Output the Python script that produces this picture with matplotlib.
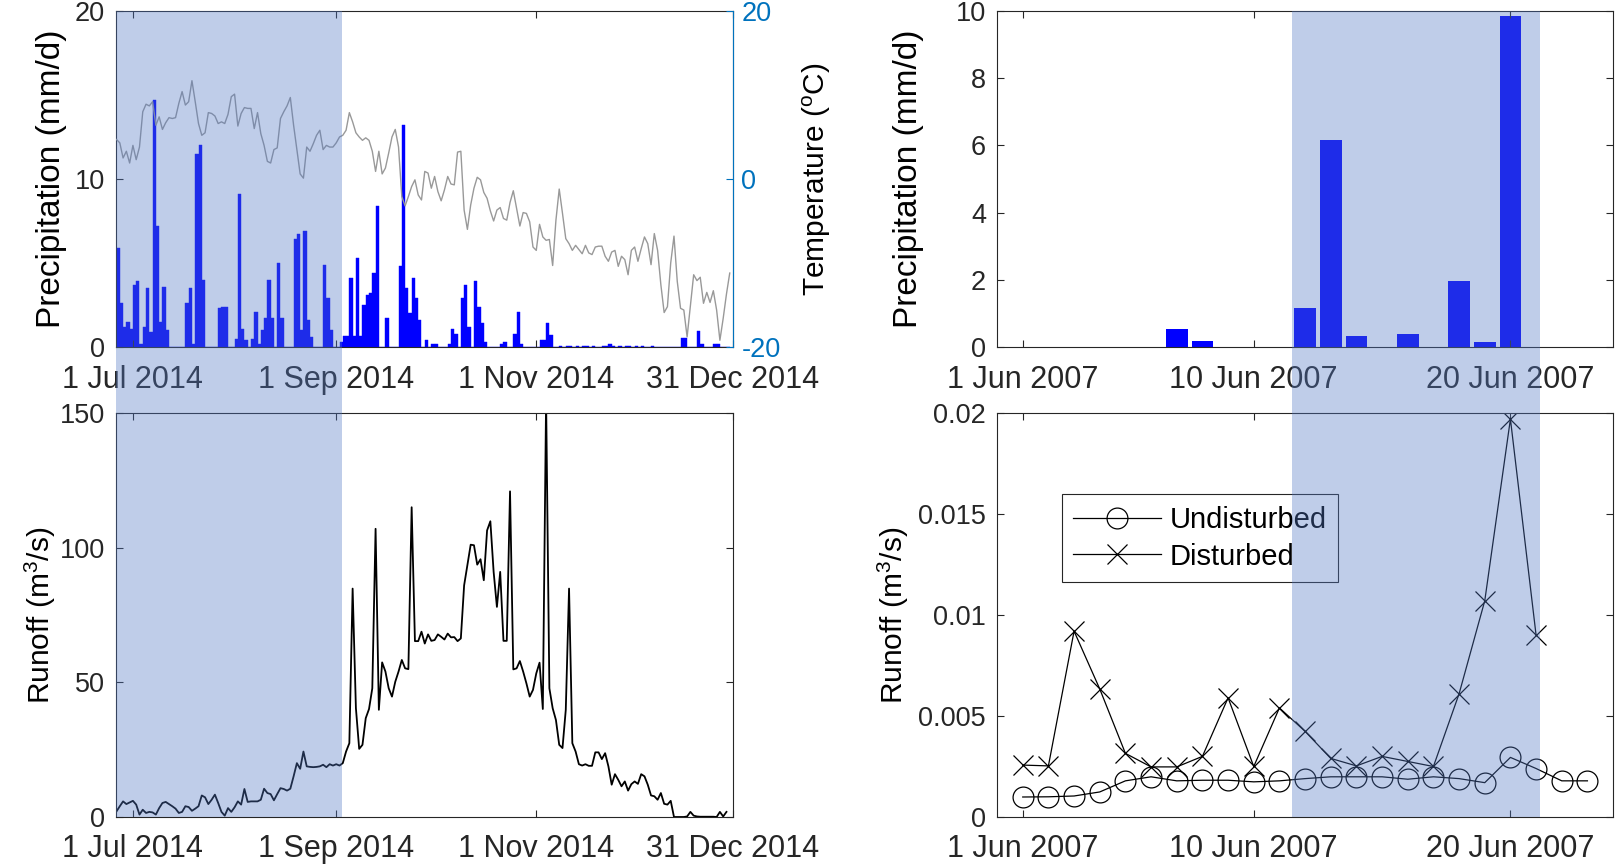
import numpy as np
import matplotlib
matplotlib.use('Agg')
import matplotlib.pyplot as plt
import matplotlib.dates as mdates
from matplotlib.patches import Rectangle
from matplotlib.transforms import blended_transform_factory

plt.rcParams['font.family'] = ['Liberation Sans', 'DejaVu Sans']
plt.rcParams['mathtext.fontset'] = 'custom'
plt.rcParams['mathtext.rm'] = 'Liberation Sans'
plt.rcParams['mathtext.it'] = 'Liberation Sans:italic'
plt.rcParams['axes.unicode_minus'] = False

# ---- 2014 series, one value per day starting 26 Jun 2014 ----
start_2014 = '2014-06-26'

precip_2014 = [
    5.9, 2.6, 1.2, 1.5, 1.1, 3.7, 3.9, 0.2, 1.2, 3.5,
    0.9, 14.7, 7.2, 1.5, 3.6, 1.0, 0, 0, 0, 0,
    0, 2.6, 3.5, 0.2, 11.5, 12.0, 4.0, 0, 0, 0,
    0, 2.3, 2.4, 2.4, 0, 0, 0.5, 9.1, 1.1, 0.4,
    0, 0.5, 2.1, 0.2, 1.0, 1.7, 4.0, 1.7, 0, 5.0,
    1.7, 0, 0, 0, 6.4, 6.7, 1.0, 6.9, 1.6, 0.6,
    0, 0, 0, 4.9, 2.9, 1.0, 0, 0, 0.3, 0.65,
    0.65, 4.1, 0.65, 5.3, 0.65, 2.5, 3.1, 3.2, 4.4, 8.4,
    0, 0, 1.7, 0, 0, 0, 4.8, 13.2, 3.5, 2.0,
    4.1, 2.9, 1.6, 0, 0.4, 0, 0.15, 0.15, 0, 0,
    0, 0.2, 1.05, 0.75, 0, 2.9, 3.7, 1.2, 0, 3.9,
    2.4, 1.4, 0.3, 0, 0, 0, 0, 0.2, 0.3, 0,
    0, 0.8, 2.1, 0.2, 0, 0, 0, 0, 0, 0.4,
    0.4, 1.45, 0.7, 0, 0, 0.06, 0, 0.06, 0.06, 0,
    0.06, 0, 0.06, 0.06, 0, 0.06, 0, 0, 0.06, 0.06,
    0.15, 0.06, 0, 0.06, 0, 0.06, 0.06, 0, 0.06, 0,
    0.06, 0, 0, 0.06, 0, 0, 0, 0, 0, 0,
    0, 0, 0.55, 0.55, 0, 0, 0, 0.95, 0.2, 0,
    0, 0, 0.15, 0.15, 0, 0, 0,
]

temp_2014 = [
    4.7, 4.3, 2.5, 3.3, 1.9, 4.0, 2.3, 3.8, 8.0, 8.9,
    8.7, 9.2, 6.4, 7.4, 5.9, 6.7, 7.3, 7.2, 7.3, 9.0,
    10.4, 8.8, 9.2, 11.7, 9.2, 6.6, 5.2, 5.5, 7.9, 7.8,
    7.5, 6.6, 6.8, 6.6, 7.7, 9.8, 10.1, 6.3, 7.8, 8.5,
    8.4, 8.4, 6.0, 7.9, 5.4, 4.0, 2.1, 1.9, 3.5, 3.7,
    7.2, 8.0, 8.7, 9.7, 6.4, 3.5, 0.6, 0.1, 3.8, 3.3,
    4.2, 5.2, 5.8, 3.5, 4.0, 3.8, 3.8, 4.3, 5.0, 5.2,
    5.8, 7.9, 6.8, 5.5, 5.0, 4.6, 4.9, 4.6, 3.3, 0.9,
    3.3, 0.6, 1.3, 3.1, 5.0, 5.9, 3.8, -2.1, -3.2, -2.1,
    -0.9, -0.1,
    -1.9, -2.5, 0.9, 0.7, -1.1, 0.3, -1.5, -2.6, -1.3, 0.3,
    -0.6, -0.7, 3.2, 3.3, -3.7, -6.0, -3.1, -1.1, 0.2, -0.1,
    -1.6, -2.3, -3.8, -5.0, -3.7, -3.4, -4.7, -4.9, -2.8, -1.4,
    -3.5, -5.6, -4.0, -4.1, -5.1, -8.1, -8.5, -5.4, -6.9, -7.3,
    -7.2, -10.3, -4.9, -1.2, -4.1, -7.1, -7.7, -8.5, -7.9, -8.4,
    -8.9, -7.9, -8.8, -9.0, -8.1, -8.0, -8.0, -9.2, -9.8, -8.7,
    -8.5, -10.4, -9.2, -9.6, -11.4, -8.5, -8.1, -9.8, -8.3, -6.9,
    -7.7, -10.2, -6.5, -8.5, -12.6, -15.9, -15.2, -10.0, -6.8, -12.2,
    -15.4, -15.6, -18.8, -15.1, -11.4, -12.1, -11.7, -14.8, -13.5, -14.7,
    -13.3, -15.6, -19.2, -16.6, -13.7, -11.2,
]

runoff_2014 = [
    2.1, 4.0, 5.8, 4.8, 5.4, 6.0, 4.6, 0.9, 2.7, 1.5,
    1.9, 1.7, 0.9, 3.3, 5.2, 5.6, 4.8, 4.0, 3.1, 1.5,
    1.9, 4.0, 3.7, 2.3, 3.1, 4.0, 8.0, 7.3, 4.8, 6.4,
    8.3, 5.2, 1.9, 0.5, 3.3, 1.9, 3.6, 5.8, 4.6, 10.4,
    5.6, 5.8, 5.8, 5.8, 6.4, 10.5, 8.9, 8.5, 6.2, 8.5,
    10.7, 10.4, 9.8, 10.5, 15.1, 20.0, 17.9, 24.3, 18.8, 18.6,
    18.5, 18.6, 18.8, 19.4, 18.5, 19.6, 19.1, 19.6, 19.1, 20.0,
    24.3, 27.4, 84.8, 40.4, 25.3, 26.8, 36.7, 40.1, 47.8, 107.0,
    39.8, 57.4, 54.0, 47.8, 44.7, 50.2, 54.0, 58.3, 55.2, 54.9,
    115.0, 65.3, 65.3, 68.8, 64.4,
    67.8, 65.4, 65.7, 67.8, 66.9, 65.9, 68.1, 66.7, 66.8, 65.3,
    66.3, 86.0, 93.5, 101.1, 100.9, 93.7, 95.7, 87.9, 106.4, 109.8,
    91.0, 78.0, 91.0, 65.4, 65.4, 120.9, 54.8, 55.2, 57.9, 54.0,
    49.6, 44.7, 47.2, 53.3, 57.3, 40.1, 155.0, 47.8, 40.4, 36.0,
    26.8, 25.6, 39.8, 84.8, 27.4, 24.3, 19.6, 19.1, 19.6, 19.0,
    19.0, 24.0, 24.0, 21.5, 23.7, 18.8, 12.0, 15.9, 13.8, 11.4,
    13.2, 9.8, 12.2, 13.2, 12.3, 15.9, 15.1, 12.0, 8.0, 7.7,
    6.4, 8.9, 4.9, 4.6, 6.0, 0.0, 0.0, 0.0, 0.0, 0.2,
    1.9, 0.5, 0.2, 0.1, 0.1, 0.1, 0.1, 0.1, 0.0, 1.9,
    0.2, 1.9,
]

ticks_2014 = ['2014-07-01', '2014-09-01', '2014-11-01', '2014-12-31']
ticklabels_2014 = ['1 Jul 2014', '1 Sep 2014', '1 Nov 2014', '31 Dec 2014']
xlim_2014 = ['2014-06-25T20:24', '2014-12-31']
shade_2014 = ['2014-06-25T20:24', '2014-09-02T16:48']

# ---- June 2007 plots ----
precip_dates_2007 = ['2007-06-07', '2007-06-08', '2007-06-12', '2007-06-13', '2007-06-14',
                     '2007-06-16', '2007-06-18', '2007-06-19', '2007-06-20']
precip_2007 = [0.55, 0.18, 1.15, 6.15, 0.32, 0.38, 1.97, 0.15, 9.85]

start_2007 = '2007-06-01'
runoff_undisturbed = [0.00099, 0.0010, 0.00104, 0.00124, 0.00179, 0.00199, 0.00179, 0.00182,
                      0.00182, 0.00174, 0.00179, 0.0019, 0.00199, 0.00199, 0.00199, 0.00187,
                      0.00199, 0.0019, 0.0017, 0.00295, 0.0024, 0.00179, 0.00179]
runoff_disturbed = [0.00257, 0.00253, 0.0092, 0.00634, 0.00315, 0.00248, 0.00248, 0.0030,
                    0.0059, 0.0025, 0.0054, 0.00424, 0.0029, 0.00253, 0.0030, 0.00275,
                    0.0025, 0.0061, 0.0107, 0.0197, 0.0090]

ticks_2007 = ['2007-06-01', '2007-06-10', '2007-06-20']
ticklabels_2007 = ['1 Jun 2007', '10 Jun 2007', '20 Jun 2007']
xlim_2007 = ['2007-05-31', '2007-06-24']
shade_2007 = ['2007-06-11T11:30', '2007-06-21T04:00']

runoff_ticks_2007 = [0, 0.005, 0.01, 0.015, 0.02]
runoff_ticklabels_2007 = ['0', '0.005', '0.01', '0.015', '0.02']


def dnum(d):
    return mdates.date2num(np.datetime64(d))


def daily(start, n):
    return mdates.date2num(np.datetime64(start) + np.arange(n).astype('timedelta64[D]'))


dark = '#262626'
mblue = (0, 0.447, 0.741)
shade_color = (0.32, 0.47, 0.77)
fs_x = 22       # date tick labels
fs_y = 19.5     # value tick labels
fs_lab = 21.5   # runoff / temperature labels
fs_prec = 24    # precipitation labels


def style(ax, right=True):
    for s in ax.spines.values():
        s.set_color(dark)
        s.set_linewidth(0.8)
    ax.tick_params(direction='in', length=5, width=0.8, colors=dark,
                   top=True, right=right)
    ax.tick_params(axis='x', labelsize=fs_x)
    ax.tick_params(axis='y', labelsize=fs_y, pad=8)


fig = plt.figure(figsize=(16.16, 8.64), dpi=100)
ax_tl = fig.add_axes([0.0718, 0.5984, 0.3818, 0.3889])
ax_bl = fig.add_axes([0.0718, 0.0544, 0.3818, 0.4676])
ax_tr = fig.add_axes([0.6170, 0.5984, 0.3812, 0.3889])
ax_br = fig.add_axes([0.6170, 0.0544, 0.3812, 0.4676])

# top left: precipitation bars + temperature
x_p = daily(start_2014, len(precip_2014))
ax_tl.bar(x_p, precip_2014, width=1, align='edge', color='#0000ff',
          edgecolor='#0000ff', linewidth=0.3)
ax_tl.set_ylim(0, 20)
ax_tl.set_yticks([0, 10, 20])
style(ax_tl, right=False)
ax_tl.set_ylabel('Precipitation (mm/d)', fontsize=fs_prec, color='black')
ax_tl.yaxis.set_label_coords(-0.08, 0.5)

ax_tt = ax_tl.twinx()
ax_tt.plot(daily(start_2014, len(temp_2014)), temp_2014, color='0.6', lw=1.0)
ax_tt.set_ylim(-20, 20)
ax_tt.set_yticks([-20, 0, 20])
for s in ax_tt.spines.values():
    s.set_visible(False)
ax_tt.spines['right'].set_visible(True)
ax_tt.spines['right'].set_color(mblue)
ax_tt.spines['right'].set_linewidth(0.8)
ax_tt.tick_params(axis='y', direction='in', length=5, width=0.8, colors=mblue,
                  labelsize=fs_y, pad=6)
ax_tt.set_ylabel('Temperature ($^{\\mathrm{o}}$C)', fontsize=fs_lab, color='black')
ax_tt.yaxis.set_label_coords(1.11, 0.5)

# bottom left: runoff
ax_bl.plot(daily(start_2014, len(runoff_2014)), runoff_2014, color='black', lw=1.3)
ax_bl.set_ylim(0, 150)
ax_bl.set_yticks([0, 50, 100, 150])
style(ax_bl)
ax_bl.set_ylabel('Runoff (m$^{\\mathrm{3}}$/s)', fontsize=fs_lab, color='black')
ax_bl.yaxis.set_label_coords(-0.094, 0.5)

for ax in (ax_tl, ax_bl):
    ax.set_xlim(dnum(xlim_2014[0]), dnum(xlim_2014[1]))
    ax.set_xticks([dnum(t) for t in ticks_2014])
    ax.set_xticklabels(ticklabels_2014)
ax_tl.tick_params(axis='x', pad=13)
ax_bl.tick_params(axis='x', pad=12)

# top right: precipitation 2007
ax_tr.bar([dnum(d) for d in precip_dates_2007], precip_2007, width=0.85,
          color='#0000ff', linewidth=0)
ax_tr.set_ylim(0, 10)
ax_tr.set_yticks([0, 2, 4, 6, 8, 10])
style(ax_tr)
ax_tr.set_ylabel('Precipitation (mm/d)', fontsize=fs_prec, color='black')
ax_tr.yaxis.set_label_coords(-0.118, 0.5)

# bottom right: runoff 2007
ax_br.plot(daily(start_2007, len(runoff_undisturbed)), runoff_undisturbed, color='black',
           lw=0.9, marker='o', ms=15, mfc='none', mec='black', mew=0.9, label='Undisturbed')
ax_br.plot(daily(start_2007, len(runoff_disturbed)), runoff_disturbed, color='black',
           lw=0.9, marker='x', ms=14, mec='black', mew=0.9, label='Disturbed')
ax_br.set_ylim(0, 0.02)
ax_br.set_yticks(runoff_ticks_2007)
ax_br.set_yticklabels(runoff_ticklabels_2007)
style(ax_br)
ax_br.set_ylabel('Runoff (m$^{\\mathrm{3}}$/s)', fontsize=fs_lab, color='black')
ax_br.yaxis.set_label_coords(-0.14, 0.5)
leg = ax_br.legend(loc='upper left', bbox_to_anchor=(0.081, 0.835), fontsize=21,
                   frameon=True, fancybox=False, edgecolor=dark, framealpha=1,
                   handlelength=3, handletextpad=0.3, borderpad=0.4, labelspacing=0.3)
leg.get_frame().set_linewidth(0.8)

for ax in (ax_tr, ax_br):
    ax.set_xlim(dnum(xlim_2007[0]), dnum(xlim_2007[1]))
    ax.set_xticks([dnum(t) for t in ticks_2007])
    ax.set_xticklabels(ticklabels_2007)
ax_tr.tick_params(axis='x', pad=13)
ax_br.tick_params(axis='x', pad=12)

# shaded periods spanning both panels of each column
for top, bottom, shade in ((ax_tl, ax_bl, shade_2014), (ax_tr, ax_br, shade_2007)):
    y0 = bottom.get_position().y0
    y1 = top.get_position().y1
    x0, x1 = dnum(shade[0]), dnum(shade[1])
    trans = blended_transform_factory(top.transData, fig.transFigure)
    fig.add_artist(Rectangle((x0, y0), x1 - x0, y1 - y0, transform=trans,
                             facecolor=shade_color, edgecolor='none', alpha=0.37, zorder=10))

fig.savefig('out.png', dpi=100)
